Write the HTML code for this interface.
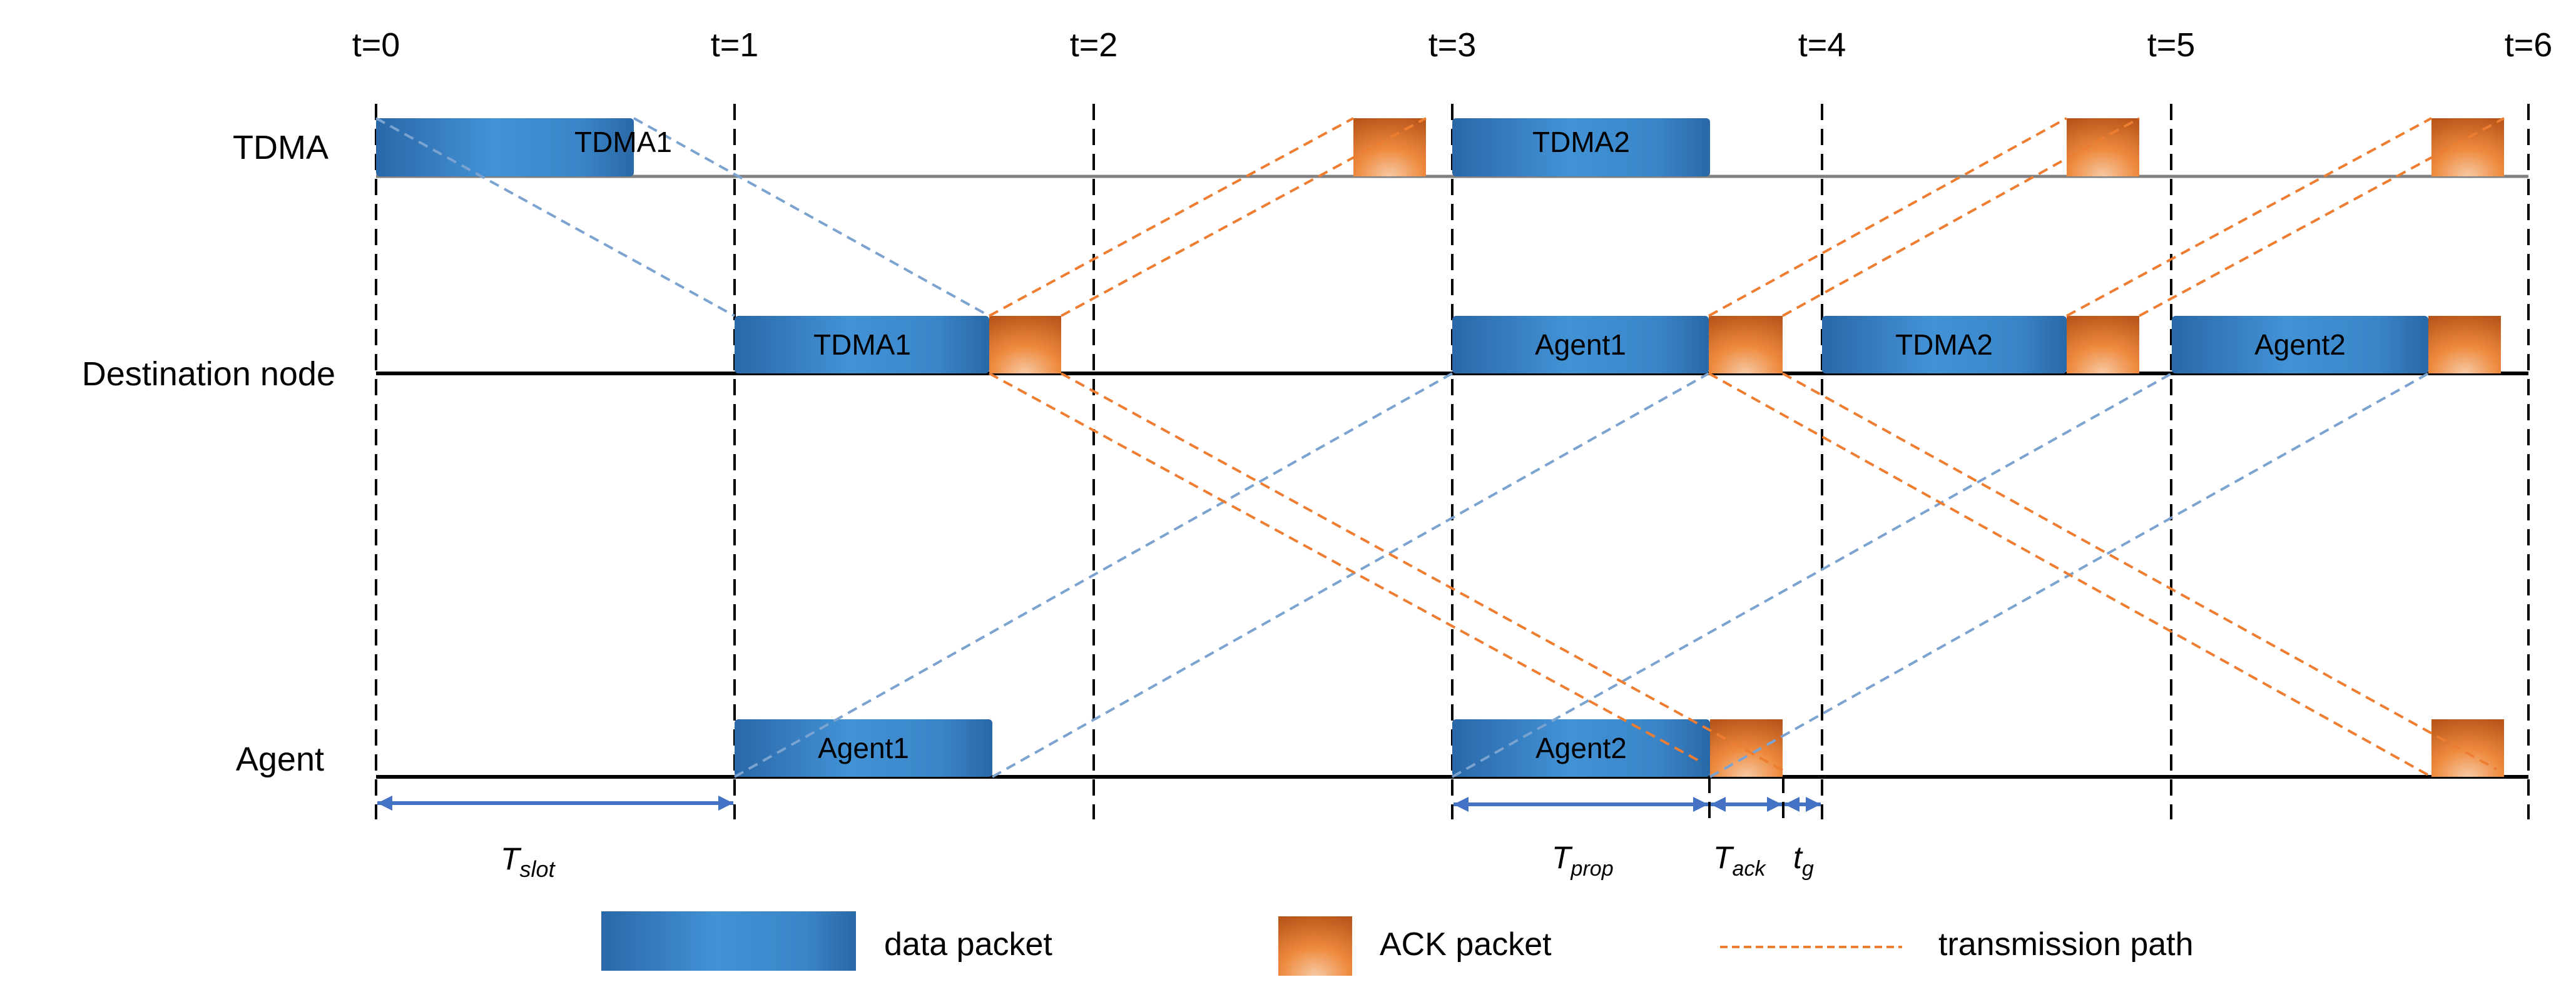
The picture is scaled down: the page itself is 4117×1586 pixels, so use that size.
<!DOCTYPE html>
<html><head><meta charset="utf-8"><style>html,body{margin:0;padding:0;background:#fff}svg{display:block}</style></head><body>
<svg xmlns="http://www.w3.org/2000/svg" width="4117" height="1586" viewBox="0 0 4117 1586" font-family="'Liberation Sans', sans-serif">
<defs>
<linearGradient id="bl" x1="0" y1="0" x2="1" y2="0">
<stop offset="0" stop-color="#2a68a8"/><stop offset="0.45" stop-color="#4292d6"/><stop offset="0.8" stop-color="#3a85c8"/><stop offset="1" stop-color="#2a68a6"/></linearGradient>
<radialGradient id="or" cx="0.5" cy="1" r="1.05">
<stop offset="0" stop-color="#f7c9a4"/><stop offset="0.45" stop-color="#ee8a3e"/><stop offset="1" stop-color="#b9561a"/></radialGradient>
<marker id="ah" viewBox="0 0 10 10" refX="10" refY="5" markerWidth="4" markerHeight="4" orient="auto-start-reverse"><path d="M0,0L10,5L0,10z" fill="#4472c4"/></marker>
</defs>
<g font-size="54" fill="#000">
<text x="601" y="90" text-anchor="middle">t=0</text>
<text x="1174" y="90" text-anchor="middle">t=1</text>
<text x="1748" y="90" text-anchor="middle">t=2</text>
<text x="2321" y="90" text-anchor="middle">t=3</text>
<text x="2912" y="90" text-anchor="middle">t=4</text>
<text x="3470" y="90" text-anchor="middle">t=5</text>
<text x="4041" y="90" text-anchor="middle">t=6</text>
<text x="525" y="254" text-anchor="end">TDMA</text>
<text x="536" y="616" text-anchor="end">Destination node</text>
<text x="518" y="1232" text-anchor="end">Agent</text>
</g>
<!-- baselines -->
<line x1="601" y1="282" x2="4041" y2="282" stroke="#808080" stroke-width="5"/>
<line x1="601" y1="597" x2="4041" y2="597" stroke="#000" stroke-width="6"/>
<line x1="601" y1="1242" x2="4041" y2="1242" stroke="#000" stroke-width="6"/>
<!-- vertical dashed -->
<g stroke="#000" stroke-width="4" stroke-dasharray="26 14">
<line x1="601" y1="166" x2="601" y2="1310"/><line x1="1174" y1="166" x2="1174" y2="1310"/>
<line x1="1748" y1="166" x2="1748" y2="1310"/><line x1="2321" y1="166" x2="2321" y2="1310"/>
<line x1="2912" y1="166" x2="2912" y2="1310"/><line x1="3470" y1="166" x2="3470" y2="1310"/>
<line x1="4041" y1="166" x2="4041" y2="1310"/>
<line x1="2732" y1="1242" x2="2732" y2="1318"/><line x1="2850" y1="1242" x2="2850" y2="1318"/>
</g>
<!-- packets -->
<g fill="url(#bl)">
<rect x="601" y="189" width="412" height="93" rx="6"/>
<rect x="2321" y="189" width="412" height="93" rx="6"/>
<rect x="1174" y="505" width="407" height="92" rx="6"/>
<rect x="2321" y="505" width="410" height="92" rx="6"/>
<rect x="2912" y="505" width="391" height="92" rx="6"/>
<rect x="3471" y="505" width="410" height="92" rx="6"/>
<rect x="1174" y="1150" width="412" height="92" rx="6"/>
<rect x="2321" y="1150" width="412" height="92" rx="6"/>
<rect x="961" y="1457" width="407" height="95"/>
</g>
<g fill="url(#or)">
<rect x="2163" y="189" width="116" height="93"/>
<rect x="3303" y="189" width="116" height="93"/>
<rect x="3886" y="189" width="116" height="93"/>
<rect x="1581" y="505" width="115" height="92"/>
<rect x="2731" y="505" width="118" height="92"/>
<rect x="3303" y="505" width="116" height="92"/>
<rect x="3881" y="505" width="116" height="92"/>
<rect x="2733" y="1150" width="116" height="92"/>
<rect x="3886" y="1150" width="116" height="92"/>
<rect x="2043" y="1465" width="118" height="95"/>
</g>
<!-- transmission paths -->
<g stroke="#7ba3d0" stroke-width="4" stroke-dasharray="16 10" fill="none">
<line x1="601" y1="189" x2="1174" y2="505"/><line x1="1013" y1="189" x2="1581" y2="505"/>
<line x1="1174" y1="1242" x2="2321" y2="597"/><line x1="1586" y1="1242" x2="2731" y2="597"/>
<line x1="2321" y1="1242" x2="3471" y2="597"/><line x1="2733" y1="1242" x2="3881" y2="597"/>
</g>
<g stroke="#ed7d31" stroke-width="4" stroke-dasharray="16 10" fill="none">
<line x1="1581" y1="505" x2="2163" y2="189"/><line x1="1696" y1="505" x2="2279" y2="189"/>
<line x1="2731" y1="505" x2="3303" y2="189"/><line x1="2849" y1="505" x2="3419" y2="189"/>
<line x1="3303" y1="505" x2="3886" y2="189"/><line x1="3419" y1="505" x2="4002" y2="189"/>
<line x1="1581" y1="597" x2="2722" y2="1220"/><line x1="1696" y1="597" x2="2850" y2="1232"/>
<line x1="2731" y1="597" x2="3886" y2="1242"/><line x1="2849" y1="597" x2="3990" y2="1230"/>
</g>
<g font-size="46" fill="#000" text-anchor="middle">
<text x="996" y="243">TDMA1</text><text x="2527" y="243">TDMA2</text>
<text x="1378" y="567">TDMA1</text><text x="2526" y="567">Agent1</text>
<text x="3107" y="567">TDMA2</text><text x="3676" y="567">Agent2</text>
<text x="1380" y="1212">Agent1</text><text x="2527" y="1212">Agent2</text>
</g>
<!-- arrows -->
<g stroke="#4472c4" stroke-width="6" marker-start="url(#ah)" marker-end="url(#ah)">
<line x1="603" y1="1284" x2="1172" y2="1284"/>
<line x1="2323" y1="1286" x2="2730" y2="1286"/>
<line x1="2734" y1="1286" x2="2848" y2="1286"/>
<line x1="2852" y1="1286" x2="2910" y2="1286"/>
</g>
<g font-size="50" font-style="italic" fill="#000">
<text x="800" y="1390">T<tspan font-size="36" dy="12">slot</tspan></text>
<text x="2480" y="1388">T<tspan font-size="34" dy="12">prop</tspan></text>
<text x="2738" y="1388">T<tspan font-size="34" dy="12">ack</tspan></text>
<text x="2866" y="1388">t<tspan font-size="34" dy="12">g</tspan></text>
</g>
<line x1="2749" y1="1514" x2="3040" y2="1514" stroke="#ed7d31" stroke-width="4" stroke-dasharray="12 7"/>
<g font-size="52" fill="#000">
<text x="1413" y="1527">data packet</text>
<text x="2205" y="1527">ACK packet</text>
<text x="3098" y="1527">transmission path</text>
</g>
</svg>
</body></html>
